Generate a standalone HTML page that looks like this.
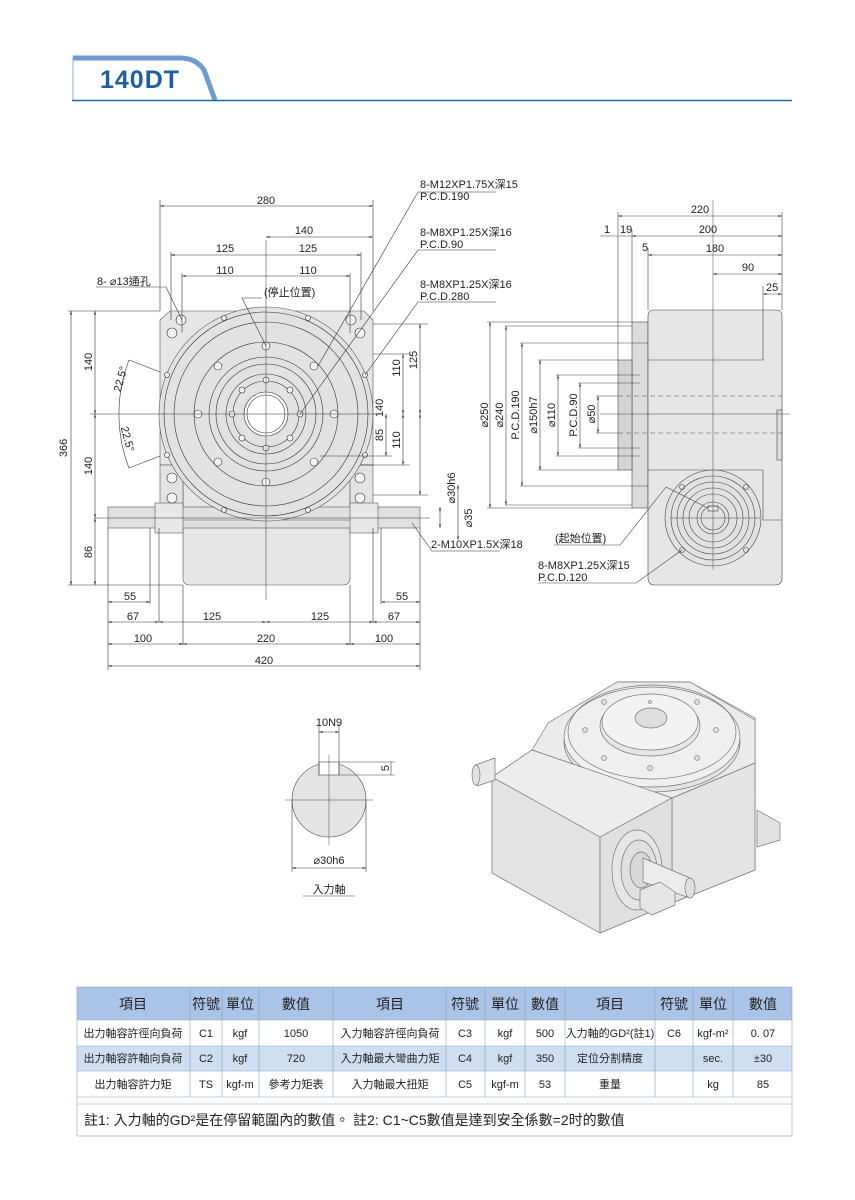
<!DOCTYPE html>
<html><head><meta charset="utf-8"><style>
html,body{margin:0;padding:0;background:#fff;}
svg{display:block;font-family:"Liberation Sans","Noto Sans CJK TC",sans-serif;}
</style></head><body>
<svg width="855" height="1200" viewBox="0 0 855 1200" xmlns="http://www.w3.org/2000/svg">
<defs>
<marker id="a" viewBox="0 0 10 10" refX="10" refY="5" markerWidth="6" markerHeight="6" orient="auto-start-reverse"><path d="M0,2 L10,5 L0,8z" fill="#333"/></marker>
</defs>
<!-- header -->
<path d="M73,58 L180,58 Q196,58 204,70 L215,100" fill="none" stroke="#6f9bd1" stroke-width="5"/>
<line x1="73" y1="57" x2="73" y2="100" stroke="#8fb0dc" stroke-width="1"/>
<line x1="72" y1="100.5" x2="792" y2="100.5" stroke="#1f64ad" stroke-width="1.5"/>
<text x="100" y="88" font-size="25" font-weight="bold" fill="#1a5fa8" letter-spacing="1">140DT</text>

<g stroke="#333" stroke-width="0.6" fill="none" font-size="10" >
<!-- FRONT VIEW body -->
<path d="M160,320 L170,311 L364,311 L373,320 L373,465 L350,465 L350,520 L350,578 Q350,585 343,585 L190,585 Q183,585 183,578 L183,520 L183,465 L160,465Z" fill="#e6e6e6" stroke="#555"/>
<rect x="160" y="465" width="23" height="55" fill="#e3e3e3" stroke="#555"/>
<rect x="350" y="465" width="23" height="55" fill="#e3e3e3" stroke="#555"/>
<rect x="108" y="507" width="312" height="21" fill="#e0e0e0" stroke="#555"/>
<rect x="155" y="503" width="28" height="30" fill="#e8e8e8" stroke="#555"/>
<rect x="350" y="503" width="28" height="30" fill="#e8e8e8" stroke="#555"/>
<line x1="183" y1="520" x2="350" y2="520" stroke="#555"/>
<circle cx="266" cy="414" r="107" fill="#e2e2e2" stroke="#555"/>
<circle cx="266" cy="414" r="102"/>
<circle cx="266" cy="414" r="92"/>
<circle cx="266" cy="414" r="72"/>
<circle cx="266" cy="414" r="57"/>
<circle cx="266" cy="414" r="50"/>
<circle cx="266" cy="414" r="40"/>
<circle cx="266" cy="414" r="33"/>
<circle cx="266" cy="414" r="22" fill="#fff"/>
<circle cx="266" cy="414" r="19"/>
<g fill="#f4f4f4">
<circle cx="266" cy="346" r="4"/><circle cx="266" cy="482" r="4"/><circle cx="198" cy="414" r="4"/><circle cx="334" cy="414" r="4"/>
<circle cx="218" cy="366" r="4"/><circle cx="314" cy="366" r="4"/><circle cx="218" cy="462" r="4"/><circle cx="314" cy="462" r="4"/>
<circle cx="266" cy="380" r="3"/><circle cx="266" cy="448" r="3"/><circle cx="232" cy="414" r="3"/><circle cx="300" cy="414" r="3"/>
<circle cx="242" cy="390" r="3"/><circle cx="290" cy="390" r="3"/><circle cx="242" cy="438" r="3"/><circle cx="290" cy="438" r="3"/>
<circle cx="224" cy="318" r="2.5"/><circle cx="308" cy="318" r="2.5"/><circle cx="167" cy="375" r="2.5"/><circle cx="365" cy="375" r="2.5"/>
<circle cx="167" cy="455" r="2.5"/><circle cx="365" cy="455" r="2.5"/><circle cx="224" cy="510" r="2.5"/><circle cx="308" cy="510" r="2.5"/>
<circle cx="172" cy="333" r="5"/><circle cx="181" cy="320" r="5"/><circle cx="351" cy="320" r="5"/><circle cx="360" cy="333" r="5"/>
<circle cx="172" cy="478" r="5"/><circle cx="172" cy="498" r="5"/><circle cx="360" cy="478" r="5"/><circle cx="360" cy="498" r="5"/>
</g>
<!-- centerlines -->
<line x1="266" y1="240" x2="266" y2="600" stroke-width="0.5"/>
<line x1="90" y1="414" x2="380" y2="414" stroke-width="0.5"/>
<line x1="95" y1="518" x2="430" y2="518" stroke-width="0.5"/>
<!-- top dims -->
<line x1="160" y1="200" x2="160" y2="311"/><line x1="373" y1="200" x2="373" y2="311"/>
<line x1="160" y1="206" x2="373" y2="206" marker-start="url(#a)" marker-end="url(#a)"/>
<line x1="266" y1="237" x2="373" y2="237" marker-start="url(#a)" marker-end="url(#a)"/>
<line x1="171" y1="255" x2="361" y2="255" marker-start="url(#a)" marker-end="url(#a)"/>
<line x1="171" y1="252" x2="171" y2="320"/><line x1="361" y1="252" x2="361" y2="320"/>
<line x1="182" y1="276" x2="350" y2="276" marker-start="url(#a)" marker-end="url(#a)"/>
<line x1="182" y1="273" x2="182" y2="333"/><line x1="350" y1="273" x2="350" y2="333"/>
<!-- left dims -->
<line x1="68" y1="311" x2="160" y2="311"/><line x1="68" y1="585" x2="183" y2="585"/>
<line x1="71" y1="311" x2="71" y2="585" marker-start="url(#a)" marker-end="url(#a)"/>
<line x1="95" y1="311" x2="95" y2="414" marker-start="url(#a)" marker-end="url(#a)"/>
<line x1="95" y1="414" x2="95" y2="518" marker-start="url(#a)" marker-end="url(#a)"/>
<line x1="95" y1="518" x2="95" y2="585" marker-start="url(#a)" marker-end="url(#a)"/>
<path d="M129,360 A150,150 0 0 0 129,468"/>
<line x1="129" y1="360" x2="160" y2="372"/><line x1="129" y1="468" x2="160" y2="456"/>
<!-- right dims of front -->
<line x1="373" y1="324" x2="428" y2="324"/><line x1="373" y1="354" x2="410" y2="354"/>
<line x1="360" y1="465" x2="410" y2="465"/><line x1="373" y1="495" x2="428" y2="495"/>
<line x1="320" y1="456" x2="392" y2="456"/>
<line x1="420" y1="324" x2="420" y2="414" marker-start="url(#a)" marker-end="url(#a)"/>
<line x1="420" y1="414" x2="420" y2="495" marker-start="url(#a)" marker-end="url(#a)"/>
<line x1="403" y1="354" x2="403" y2="414" marker-start="url(#a)" marker-end="url(#a)"/>
<line x1="403" y1="414" x2="403" y2="465" marker-start="url(#a)" marker-end="url(#a)"/>
<line x1="386" y1="414" x2="386" y2="456" marker-start="url(#a)" marker-end="url(#a)"/>
<line x1="440" y1="507" x2="440" y2="528" marker-start="url(#a)" marker-end="url(#a)"/>
<line x1="458" y1="485" x2="458" y2="540" marker-start="url(#a)" marker-end="url(#a)"/>
<!-- bottom dims -->
<line x1="108" y1="528" x2="108" y2="670"/><line x1="420" y1="528" x2="420" y2="670"/>
<line x1="150" y1="528" x2="150" y2="604"/><line x1="381" y1="528" x2="381" y2="604"/>
<line x1="183" y1="585" x2="183" y2="645"/><line x1="350" y1="585" x2="350" y2="645"/>
<line x1="159" y1="528" x2="159" y2="622"/><line x1="373" y1="528" x2="373" y2="622"/>
<line x1="108" y1="602" x2="150" y2="602" marker-start="url(#a)" marker-end="url(#a)"/>
<line x1="381" y1="602" x2="420" y2="602" marker-start="url(#a)" marker-end="url(#a)"/>
<line x1="108" y1="622" x2="159" y2="622" marker-start="url(#a)" marker-end="url(#a)"/>
<line x1="159" y1="622" x2="266" y2="622" marker-start="url(#a)" marker-end="url(#a)"/>
<line x1="266" y1="622" x2="373" y2="622" marker-start="url(#a)" marker-end="url(#a)"/>
<line x1="373" y1="622" x2="420" y2="622" marker-start="url(#a)" marker-end="url(#a)"/>
<line x1="108" y1="644" x2="183" y2="644" marker-start="url(#a)" marker-end="url(#a)"/>
<line x1="183" y1="644" x2="350" y2="644" marker-start="url(#a)" marker-end="url(#a)"/>
<line x1="350" y1="644" x2="420" y2="644" marker-start="url(#a)" marker-end="url(#a)"/>
<line x1="108" y1="666" x2="420" y2="666" marker-start="url(#a)" marker-end="url(#a)"/>
<!-- leaders -->
<polyline points="96,287 166,287 182,320"/>
<polyline points="262,298 242,298 266,346"/>
<polyline points="496,192 418,192 318,366"/>
<polyline points="496,250 418,250 300,414"/>
<polyline points="496,302 418,302 365,375"/>
<polyline points="500,551 432,551 412,523"/>
</g>
<g font-size="11" fill="#222">
<text x="266" y="204" text-anchor="middle">280</text>
<text x="304" y="234" text-anchor="middle">140</text>
<text x="225" y="252" text-anchor="middle">125</text>
<text x="308" y="252" text-anchor="middle">125</text>
<text x="225" y="274" text-anchor="middle">110</text>
<text x="308" y="274" text-anchor="middle">110</text>
<text x="97" y="285">8- ⌀13通孔</text>
<text x="264" y="296">(停止位置)</text>
<text x="420" y="188">8-M12XP1.75X深15</text><text x="420" y="200">P.C.D.190</text>
<text x="420" y="236">8-M8XP1.25X深16</text><text x="420" y="248">P.C.D.90</text>
<text x="420" y="288">8-M8XP1.25X深16</text><text x="420" y="300">P.C.D.280</text>
<text x="431" y="548">2-M10XP1.5X深18</text>
<text x="130" y="600" text-anchor="middle">55</text><text x="402" y="600" text-anchor="middle">55</text>
<text x="133" y="620" text-anchor="middle">67</text><text x="212" y="620" text-anchor="middle">125</text>
<text x="320" y="620" text-anchor="middle">125</text><text x="394" y="620" text-anchor="middle">67</text>
<text x="143" y="642" text-anchor="middle">100</text><text x="266" y="642" text-anchor="middle">220</text>
<text x="384" y="642" text-anchor="middle">100</text><text x="264" y="664" text-anchor="middle">420</text>
<text transform="translate(67,448) rotate(-90)" text-anchor="middle">366</text>
<text transform="translate(92,362) rotate(-90)" text-anchor="middle">140</text>
<text transform="translate(92,466) rotate(-90)" text-anchor="middle">140</text>
<text transform="translate(92,552) rotate(-90)" text-anchor="middle">86</text>
<text transform="translate(124,380) rotate(-75)" text-anchor="middle">22.5°</text>
<text transform="translate(124,440) rotate(75)" text-anchor="middle">22.5°</text>
<text transform="translate(400,368) rotate(-90)" text-anchor="middle">110</text>
<text transform="translate(417,360) rotate(-90)" text-anchor="middle">125</text>
<text transform="translate(400,440) rotate(-90)" text-anchor="middle">110</text>
<text transform="translate(383,435) rotate(-90)" text-anchor="middle">85</text>
<text transform="translate(383,408) rotate(-90)" text-anchor="middle">140</text>
<text transform="translate(455,488) rotate(-90)" text-anchor="middle">⌀30h6</text>
<text transform="translate(472,518) rotate(-90)" text-anchor="middle">⌀35</text>
</g>

<!-- SIDE VIEW -->
<g stroke="#444" stroke-width="0.6" fill="none">
<rect x="632" y="322" width="16" height="186" fill="#dcdcdc"/>
<rect x="618" y="360" width="14" height="110" fill="#d4d4d4"/>
<path d="M648,316 Q648,310 654,310 L776,310 Q782,310 782,316 L782,578 Q782,585 775,585 L655,585 Q648,585 648,578Z" fill="#e6e6e6"/>
<path d="M648,360 L763,360 L763,310" /><path d="M648,470 L763,470 L763,520 L782,520"/>
<rect x="777" y="410" width="5" height="50" fill="#ddd"/>
<line x1="618" y1="396" x2="782" y2="396" stroke-dasharray="5,3"/>
<line x1="618" y1="433" x2="782" y2="433" stroke-dasharray="5,3"/>
<circle cx="713" cy="518" r="48" fill="#e2e2e2"/>
<circle cx="713" cy="518" r="42"/><circle cx="713" cy="518" r="36"/><circle cx="713" cy="518" r="30"/>
<circle cx="713" cy="518" r="24"/><circle cx="713" cy="518" r="16"/><circle cx="713" cy="518" r="12"/>
<rect x="708" y="506" width="10" height="5"/>
<circle cx="682" cy="487" r="2.5"/><circle cx="746" cy="487" r="2.5"/><circle cx="682" cy="550" r="2.5"/><circle cx="746" cy="550" r="2.5"/>
<line x1="713" y1="200" x2="713" y2="570" stroke-width="0.5"/>
<line x1="670" y1="518" x2="760" y2="518"/>
<line x1="600" y1="414" x2="790" y2="414" stroke-width="0.5"/>
<line x1="618" y1="212" x2="618" y2="360"/><line x1="782" y1="212" x2="782" y2="310"/>
<line x1="632" y1="230" x2="632" y2="322"/><line x1="648" y1="248" x2="648" y2="310"/>
<line x1="763" y1="286" x2="763" y2="310"/>
<line x1="618" y1="216" x2="782" y2="216" marker-start="url(#a)" marker-end="url(#a)"/>
<line x1="632" y1="236" x2="782" y2="236" marker-start="url(#a)" marker-end="url(#a)"/>
<line x1="600" y1="236" x2="632" y2="236"/>
<line x1="648" y1="255" x2="782" y2="255" marker-start="url(#a)" marker-end="url(#a)"/>
<line x1="713" y1="274" x2="782" y2="274" marker-start="url(#a)" marker-end="url(#a)"/>
<line x1="763" y1="294" x2="782" y2="294" marker-start="url(#a)" marker-end="url(#a)"/>
<g>
<line x1="487" y1="322" x2="632" y2="322"/><line x1="487" y1="508" x2="632" y2="508"/>
<line x1="490" y1="322" x2="490" y2="508" marker-start="url(#a)" marker-end="url(#a)"/>
<line x1="505" y1="326" x2="632" y2="326"/><line x1="505" y1="505" x2="632" y2="505"/>
<line x1="506" y1="326" x2="506" y2="505" marker-start="url(#a)" marker-end="url(#a)"/>
<line x1="520" y1="343" x2="648" y2="343"/><line x1="520" y1="486" x2="648" y2="486"/>
<line x1="522" y1="343" x2="522" y2="486" marker-start="url(#a)" marker-end="url(#a)"/>
<line x1="538" y1="360" x2="618" y2="360"/><line x1="538" y1="470" x2="618" y2="470"/>
<line x1="540" y1="360" x2="540" y2="470" marker-start="url(#a)" marker-end="url(#a)"/>
<line x1="556" y1="375" x2="640" y2="375"/><line x1="556" y1="456" x2="640" y2="456"/>
<line x1="558" y1="375" x2="558" y2="456" marker-start="url(#a)" marker-end="url(#a)"/>
<line x1="578" y1="383" x2="640" y2="383"/><line x1="578" y1="448" x2="640" y2="448"/>
<line x1="580" y1="383" x2="580" y2="448" marker-start="url(#a)" marker-end="url(#a)"/>
<line x1="596" y1="396" x2="618" y2="396"/><line x1="596" y1="433" x2="618" y2="433"/>
<line x1="598" y1="396" x2="598" y2="433" marker-start="url(#a)" marker-end="url(#a)"/>
</g>
<polyline points="554,545 620,545 666,487 708,508"/>
<polyline points="538,583 636,583 682,550"/>
</g>
<g font-size="11" fill="#222">
<text x="700" y="213" text-anchor="middle">220</text>
<text x="604" y="233">1</text><text x="620" y="233">19</text>
<text x="708" y="233" text-anchor="middle">200</text>
<text x="642" y="251">5</text>
<text x="715" y="252" text-anchor="middle">180</text>
<text x="748" y="271" text-anchor="middle">90</text>
<text x="766" y="291">25</text>
<text transform="translate(488,415) rotate(-90)" text-anchor="middle">⌀250</text>
<text transform="translate(503,415) rotate(-90)" text-anchor="middle">⌀240</text>
<text transform="translate(519,415) rotate(-90)" text-anchor="middle">P.C.D.190</text>
<text transform="translate(537,415) rotate(-90)" text-anchor="middle">⌀150h7</text>
<text transform="translate(555,415) rotate(-90)" text-anchor="middle">⌀110</text>
<text transform="translate(577,415) rotate(-90)" text-anchor="middle">P.C.D.90</text>
<text transform="translate(595,414) rotate(-90)" text-anchor="middle">⌀50</text>
<text x="555" y="542">(起始位置)</text>
<text x="538" y="569">8-M8XP1.25X深15</text>
<text x="538" y="581">P.C.D.120</text>
</g>

<!-- SHAFT VIEW -->
<g stroke="#444" stroke-width="0.6" fill="none">
<circle cx="329" cy="800" r="37" fill="#e4e4e4"/>
<rect x="319" y="762" width="20" height="13" fill="#fff"/>
<line x1="285" y1="800" x2="373" y2="800" stroke-width="0.5"/>
<line x1="329" y1="755" x2="329" y2="845" stroke-width="0.5"/>
<line x1="319" y1="724" x2="319" y2="775"/><line x1="339" y1="724" x2="339" y2="775"/>
<line x1="319" y1="732" x2="339" y2="732" marker-start="url(#a)" marker-end="url(#a)"/>
<line x1="339" y1="762" x2="395" y2="762"/><line x1="339" y1="775" x2="395" y2="775"/>
<line x1="391" y1="762" x2="391" y2="775"/>
<line x1="292" y1="800" x2="292" y2="872"/><line x1="366" y1="800" x2="366" y2="872"/>
<line x1="292" y1="868" x2="366" y2="868" marker-start="url(#a)" marker-end="url(#a)"/>
<line x1="303" y1="896" x2="355" y2="896"/>
</g>
<g font-size="11" fill="#222">
<text x="329" y="726" text-anchor="middle">10N9</text>
<text transform="translate(389,768) rotate(-90)" text-anchor="middle">5</text>
<text x="329" y="864" text-anchor="middle">⌀30h6</text>
<text x="329" y="893" text-anchor="middle">入力軸</text>
</g>

<!-- 3D RENDER -->
<g stroke="#777" stroke-width="0.7" stroke-linejoin="round">
<!-- housing behind -->
<path d="M548,723 L560,716 L617,682 L690,682 L755,718 L755,870 L672,903 L600,933 L492,873 L492,777 L532,750 L548,745Z" fill="#e6e6e6"/>
<!-- right foot -->
<path d="M757,810 L780,823 L780,840 L757,847Z" fill="#e2e2e2"/>
<!-- right face -->
<path d="M672,798 L755,763 L755,870 L672,903Z" fill="#e4e4e4"/>
<!-- housing top plate -->
<path d="M548,723 L617,682 L690,682 L755,720 L755,763 L672,798 L532,750Z" fill="#ebebeb"/>
<!-- table -->
<ellipse cx="652" cy="742" rx="88" ry="50" fill="#e4e4e4"/>
<ellipse cx="652" cy="737" rx="88" ry="50" fill="#efefef"/>
<ellipse cx="652" cy="732" rx="84" ry="47" fill="none"/>
<ellipse cx="650" cy="726" rx="50" ry="30" fill="#e6e6e6"/>
<ellipse cx="650" cy="722" rx="48" ry="28" fill="#f3f3f3"/>
<ellipse cx="651" cy="718" rx="16" ry="10" fill="#dedede"/>
<g fill="#ddd" stroke="#888">
<circle cx="604" cy="702" r="2.5"/><circle cx="697" cy="702" r="2.5"/><circle cx="585" cy="730" r="2.5"/><circle cx="716" cy="730" r="2.5"/>
<circle cx="604" cy="758" r="2.5"/><circle cx="697" cy="758" r="2.5"/><circle cx="650" cy="768" r="2.5"/><circle cx="650" cy="702" r="1.5"/>
</g>
<!-- box top face -->
<path d="M492,777 L532,750 L672,798 L600,837Z" fill="#ededed"/>
<!-- box left face -->
<path d="M492,777 L600,837 L600,933 L492,873Z" fill="#e3e3e3"/>
<!-- box front face -->
<path d="M600,837 L672,798 L672,903 L600,933Z" fill="#e0e0e0"/>
<!-- left shaft -->
<path d="M475,765 L495,758 L495,780 L477,786Z" fill="#e8e8e8"/>
<ellipse cx="476" cy="775" rx="4" ry="10" fill="#e2e2e2"/>
<!-- front flange and shaft -->
<ellipse cx="637" cy="870" rx="25" ry="40" fill="#e6e6e6"/>
<ellipse cx="639" cy="870" rx="18" ry="30" fill="#e0e0e0"/>
<ellipse cx="641" cy="870" rx="11" ry="18" fill="#d8d8d8"/>
<path d="M643,858 L690,878 L690,898 L643,882Z" fill="#ececec"/>
<ellipse cx="690" cy="888" rx="5" ry="10" fill="#e0e0e0"/>
<path d="M640,890 L660,882 L675,892 L675,905 L652,915 L640,908Z" fill="#e6e6e6"/>
</g>

<!-- TABLE -->
<g font-size="12" fill="#222" stroke="none">
<rect x="77" y="987" width="715" height="33" fill="#a9c4e6"/>
<rect x="77" y="1046" width="715" height="25" fill="#cfdff3"/>
<g stroke="#8aa2c2" stroke-width="0.6" fill="none">
<rect x="77" y="987" width="715" height="149"/>
<line x1="77" y1="1020" x2="792" y2="1020"/><line x1="77" y1="1046" x2="792" y2="1046"/>
<line x1="77" y1="1071" x2="792" y2="1071"/><line x1="77" y1="1097" x2="792" y2="1097"/>
<line x1="77" y1="1104" x2="792" y2="1104"/>
<path d="M190,987V1097M222,987V1097M259,987V1097M333,987V1097M446,987V1097M485,987V1097M525,987V1097M565,987V1097M655,987V1097M693,987V1097M733,987V1097"/>
</g>
<g font-size="14" text-anchor="middle">
<text x="133" y="1009">項目</text><text x="206" y="1009">符號</text><text x="240" y="1009">單位</text><text x="296" y="1009">數值</text>
<text x="390" y="1009">項目</text><text x="465" y="1009">符號</text><text x="505" y="1009">單位</text><text x="545" y="1009">數值</text>
<text x="610" y="1009">項目</text><text x="674" y="1009">符號</text><text x="713" y="1009">單位</text><text x="763" y="1009">數值</text>
</g>
<g font-size="11" text-anchor="middle">
<text x="133" y="1037">出力軸容許徑向負荷</text><text x="206" y="1037">C1</text><text x="240" y="1037">kgf</text><text x="296" y="1037">1050</text>
<text x="390" y="1037">入力軸容許徑向負荷</text><text x="465" y="1037">C3</text><text x="505" y="1037">kgf</text><text x="545" y="1037">500</text>
<text x="610" y="1037">入力軸的GD²(註1)</text><text x="674" y="1037">C6</text><text x="713" y="1037">kgf-m²</text><text x="763" y="1037">0. 07</text>
<text x="133" y="1062">出力軸容許軸向負荷</text><text x="206" y="1062">C2</text><text x="240" y="1062">kgf</text><text x="296" y="1062">720</text>
<text x="390" y="1062">入力軸最大彎曲力矩</text><text x="465" y="1062">C4</text><text x="505" y="1062">kgf</text><text x="545" y="1062">350</text>
<text x="610" y="1062">定位分割精度</text><text x="713" y="1062">sec.</text><text x="763" y="1062">±30</text>
<text x="133" y="1088">出力軸容許力矩</text><text x="206" y="1088">TS</text><text x="240" y="1088">kgf-m</text><text x="296" y="1088">參考力矩表</text>
<text x="390" y="1088">入力軸最大扭矩</text><text x="465" y="1088">C5</text><text x="505" y="1088">kgf-m</text><text x="545" y="1088">53</text>
<text x="610" y="1088">重量</text><text x="713" y="1088">kg</text><text x="763" y="1088">85</text>
</g>
<text x="84" y="1125" font-size="14">註1:  入力軸的GD²是在停留範圍內的數值。 註2:  C1~C5數值是達到安全係數=2时的數值</text>
</g>
</svg>
</body></html>
